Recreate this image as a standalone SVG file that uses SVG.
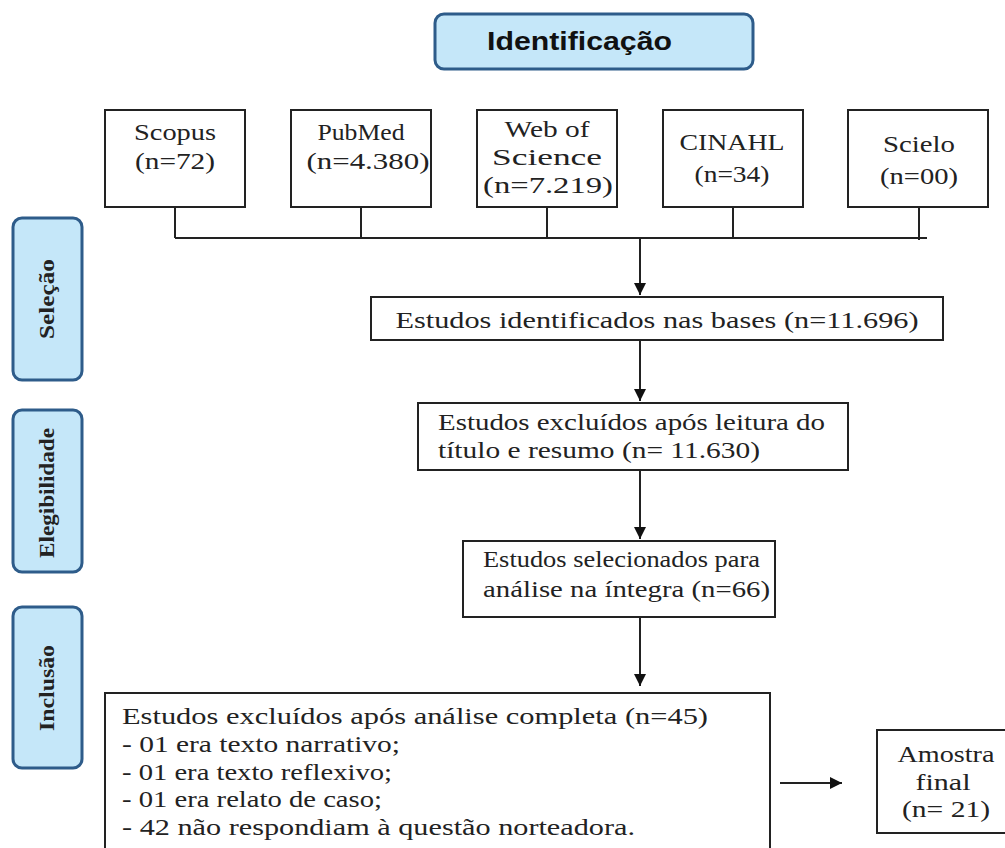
<svg xmlns="http://www.w3.org/2000/svg" width="1005" height="848" viewBox="0 0 1005 848">
<defs>
<marker id="arr" viewBox="0 0 10 10" refX="10" refY="5" markerWidth="6" markerHeight="6" markerUnits="strokeWidth" orient="auto">
<path d="M0,0 L10,5 L0,10 z" fill="#111"/>
</marker>
</defs>
<style>
.box{fill:#fff;stroke:#222;stroke-width:2}
.phase{fill:#c5e7f9;stroke:#2e5c8a;stroke-width:3}
.t{font-family:"Liberation Serif","DejaVu Serif",serif;font-size:23px;fill:#222}
.tc{text-anchor:middle}
.ph{font-family:"Liberation Serif","DejaVu Serif",serif;font-size:21px;font-weight:bold;fill:#222;text-anchor:middle}
.title{font-family:"Liberation Sans",Arial,sans-serif;font-size:26px;font-weight:bold;fill:#111}
.ln{fill:none;stroke:#222;stroke-width:2}
</style>
<rect width="1005" height="848" fill="#fff"/>

<g id="identificacao">
<rect class="phase" x="435" y="14" width="318" height="55" rx="9"/>
<text class="title" x="487" y="50" textLength="185" lengthAdjust="spacingAndGlyphs">Identificação</text>
</g>
<g id="selecao">
<rect class="phase" x="13" y="218" width="69" height="162" rx="9"/>
<text class="ph" transform="translate(54,299) rotate(-90)" textLength="80" lengthAdjust="spacingAndGlyphs">Seleção</text>
</g>
<g id="elegibilidade">
<rect class="phase" x="13" y="410" width="69" height="162" rx="9"/>
<text class="ph" transform="translate(54,493) rotate(-90)" textLength="130" lengthAdjust="spacingAndGlyphs">Elegibilidade</text>
</g>
<g id="inclusao">
<rect class="phase" x="13" y="607" width="69" height="161" rx="9"/>
<text class="ph" transform="translate(54,688) rotate(-90)" textLength="86" lengthAdjust="spacingAndGlyphs">Inclusão</text>
</g>

<g id="scopus">
<rect class="box" x="105" y="110" width="140" height="97"/>
<text class="t tc" x="175" y="140" textLength="82" lengthAdjust="spacingAndGlyphs">Scopus</text>
<text class="t tc" x="175" y="169" textLength="80" lengthAdjust="spacingAndGlyphs">(n=72)</text>
</g>
<g id="pubmed">
<rect class="box" x="291" y="110" width="140" height="97"/>
<text class="t tc" x="361" y="140" textLength="87" lengthAdjust="spacingAndGlyphs">PubMed</text>
<text class="t tc" x="368" y="169" textLength="123" lengthAdjust="spacingAndGlyphs">(n=4.380)</text>
</g>
<g id="webofscience">
<rect class="box" x="477" y="110" width="140" height="97"/>
<text class="t tc" x="547" y="137" textLength="85" lengthAdjust="spacingAndGlyphs">Web of</text>
<text class="t tc" x="547" y="165" textLength="110" lengthAdjust="spacingAndGlyphs">Science</text>
<text class="t tc" x="548" y="193" textLength="130" lengthAdjust="spacingAndGlyphs">(n=7.219)</text>
</g>
<g id="cinahl">
<rect class="box" x="663" y="110" width="140" height="97"/>
<text class="t tc" x="732" y="150" textLength="105" lengthAdjust="spacingAndGlyphs">CINAHL</text>
<text class="t tc" x="732" y="182" textLength="75" lengthAdjust="spacingAndGlyphs">(n=34)</text>
</g>
<g id="scielo">
<rect class="box" x="848" y="110" width="140" height="97"/>
<text class="t tc" x="919" y="152" textLength="72" lengthAdjust="spacingAndGlyphs">Scielo</text>
<text class="t tc" x="919" y="184" textLength="78" lengthAdjust="spacingAndGlyphs">(n=00)</text>
</g>

<g id="identificados">
<rect class="box" x="371" y="297" width="572" height="43"/>
<text class="t tc" x="657" y="328" textLength="523" lengthAdjust="spacingAndGlyphs">Estudos identificados nas bases (n=11.696)</text>
</g>
<g id="excluidos-titulo">
<rect class="box" x="418" y="403" width="430" height="67"/>
<text class="t" x="438" y="430" textLength="387" lengthAdjust="spacingAndGlyphs">Estudos excluídos após leitura do</text>
<text class="t" x="438" y="458" textLength="322" lengthAdjust="spacingAndGlyphs">título e resumo (n= 11.630)</text>
</g>
<g id="selecionados">
<rect class="box" x="463" y="541" width="312" height="76"/>
<text class="t" x="483" y="567" textLength="277" lengthAdjust="spacingAndGlyphs">Estudos selecionados para</text>
<text class="t" x="483" y="597" textLength="287" lengthAdjust="spacingAndGlyphs">análise na íntegra (n=66)</text>
</g>
<g id="excluidos-completa">
<rect class="box" x="105" y="693" width="665" height="170"/>
<text class="t" x="122" y="724" textLength="586" lengthAdjust="spacingAndGlyphs">Estudos excluídos após análise completa (n=45)</text>
<text class="t" x="122" y="752" textLength="278" lengthAdjust="spacingAndGlyphs">- 01 era texto narrativo;</text>
<text class="t" x="122" y="780" textLength="270" lengthAdjust="spacingAndGlyphs">- 01 era texto reflexivo;</text>
<text class="t" x="122" y="807" textLength="260" lengthAdjust="spacingAndGlyphs">- 01 era relato de caso;</text>
<text class="t" x="122" y="835" textLength="513" lengthAdjust="spacingAndGlyphs">- 42 não respondiam à questão norteadora.</text>
</g>
<g id="amostra">
<rect class="box" x="877" y="730" width="140" height="103"/>
<text class="t tc" x="946" y="762" textLength="97" lengthAdjust="spacingAndGlyphs">Amostra</text>
<text class="t tc" x="943" y="790" textLength="55" lengthAdjust="spacingAndGlyphs">final</text>
<text class="t tc" x="946" y="817" textLength="88" lengthAdjust="spacingAndGlyphs">(n= 21)</text>
</g>

<g id="connectors">
<path class="ln" d="M175,207 V238 M361,207 V238 M547,207 V238 M733,207 V238 M919,207 V240 M175,238 H927"/>
<path class="ln" d="M640,238 V295" marker-end="url(#arr)"/>
<path class="ln" d="M640,340 V401" marker-end="url(#arr)"/>
<path class="ln" d="M640,470 V539" marker-end="url(#arr)"/>
<path class="ln" d="M640,617 V686" marker-end="url(#arr)"/>
<path class="ln" d="M780,783 H842" marker-end="url(#arr)"/>
</g>
</svg>
